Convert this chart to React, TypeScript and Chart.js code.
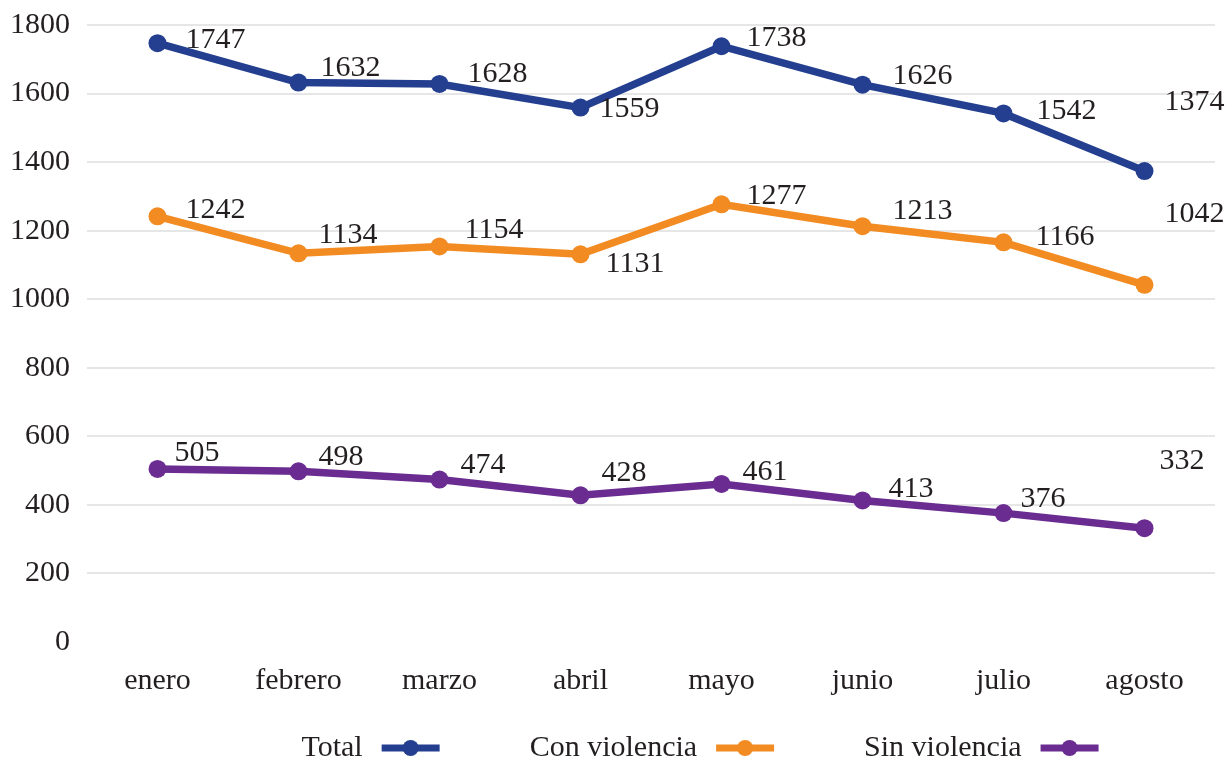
import React, { useEffect, useRef } from "react";
import { Chart, registerables } from "chart.js";

Chart.register(...registerables);

// ---- data ----
const months = ["enero", "febrero", "marzo", "abril", "mayo", "junio", "julio", "agosto"];
const seriesNames = ["Total", "Con violencia", "Sin violencia"];
const totalValues = [1747, 1632, 1628, 1559, 1738, 1626, 1542, 1374];
const conViolenciaValues = [1242, 1134, 1154, 1131, 1277, 1213, 1166, 1042];
const sinViolenciaValues = [505, 498, 474, 428, 461, 413, 376, 332];
const yMin = 0;
const yMax = 1800;
const yStep = 200;

// ---- styles ----
const COLORS = ["#243f8f", "#f28b22", "#6a2c91"];
const FONT = '"Liberation Serif", "DejaVu Serif", serif';
const TEXT = "#231f20";
const GRID = "#e6e6e6";
const FS = 30;

// label offsets relative to each point (dx, dy)
const labelOffsets: number[][][] = [
  [[28, -3], [22, -14], [28, -10], [19, 2], [25, -8], [30, -9], [33, -2], [20, -69]],
  [[28, -6], [20, -18], [25, -16], [25, 10], [25, -8], [30, -15], [32, -5], [20, -71]],
  [[17, -16], [20, -14], [21, -14], [21, -22], [21, -12], [26, -11], [17, -14], [15, -67]],
];

const dataLabelPlugin = {
  id: "customDataLabels",
  afterDatasetsDraw(chart: any) {
    const ctx = chart.ctx;
    ctx.save();
    ctx.font = `${FS}px ${FONT}`;
    ctx.fillStyle = TEXT;
    ctx.textAlign = "left";
    ctx.textBaseline = "middle";
    chart.data.datasets.forEach((ds: any, i: number) => {
      const meta = chart.getDatasetMeta(i);
      meta.data.forEach((el: any, j: number) => {
        const off = labelOffsets[i][j];
        ctx.fillText(String(ds.data[j]), el.x + off[0], el.y + off[1]);
      });
    });
    ctx.restore();
  },
};

const legendPlugin = {
  id: "customLegend",
  afterDraw(chart: any) {
    const ctx = chart.ctx;
    ctx.save();
    ctx.font = `${FS}px ${FONT}`;
    ctx.textAlign = "left";
    ctx.textBaseline = "middle";
    const gapText = 19;
    const markerW = 58;
    const gapItem = 90;
    const widths = chart.data.datasets.map((ds: any) => ctx.measureText(ds.label).width);
    let total = 0;
    widths.forEach((w: number, i: number) => {
      total += w + gapText + markerW + (i < widths.length - 1 ? gapItem : 0);
    });
    let x = 700 - total / 2;
    const y = 748;
    chart.data.datasets.forEach((ds: any, i: number) => {
      ctx.fillStyle = TEXT;
      ctx.fillText(ds.label, x, y);
      x += widths[i] + gapText;
      ctx.strokeStyle = ds.borderColor;
      ctx.lineWidth = 7;
      ctx.beginPath();
      ctx.moveTo(x, y);
      ctx.lineTo(x + markerW, y);
      ctx.stroke();
      ctx.fillStyle = ds.borderColor;
      ctx.beginPath();
      ctx.arc(x + markerW / 2, y, 8, 0, Math.PI * 2);
      ctx.fill();
      x += markerW + gapItem;
    });
    ctx.restore();
  },
};

export default function App() {
  const canvasRef = useRef<HTMLCanvasElement | null>(null);

  useEffect(() => {
    if (!canvasRef.current) return;
    const seriesValues = [totalValues, conViolenciaValues, sinViolenciaValues];
    const chart = new Chart(canvasRef.current, {
      type: "line",
      data: {
        labels: months,
        datasets: seriesValues.map((vals, i) => ({
          label: seriesNames[i],
          data: vals,
          borderColor: COLORS[i],
          backgroundColor: COLORS[i],
          borderWidth: 7.5,
          pointRadius: 9,
          pointBorderWidth: 0,
          pointBackgroundColor: COLORS[i],
          tension: 0,
          fill: false,
        })),
      },
      options: {
        animation: false,
        responsive: false,
        devicePixelRatio: 1,
        layout: { padding: { top: 25, right: 13, bottom: 60, left: 0 } },
        plugins: {
          legend: { display: false },
          tooltip: { enabled: false },
        },
        scales: {
          x: {
            offset: true,
            grid: { display: false, drawTicks: false },
            border: { display: false },
            ticks: { color: TEXT, font: { family: FONT, size: FS }, padding: 21, maxRotation: 0 },
            afterFit: (s: any) => { s.height = 60; },
          },
          y: {
            min: yMin,
            max: yMax,
            grid: {
              color: (c: any) => (c.tick && c.tick.value === 0 ? "rgba(0,0,0,0)" : GRID),
              lineWidth: 2,
              drawTicks: false,
            },
            border: { display: false },
            ticks: {
              stepSize: yStep,
              color: TEXT,
              font: { family: FONT, size: FS },
              padding: 17,
              callback: (v: any) => String(v),
            },
            afterFit: (s: any) => {
              s.width = 87;
              s.paddingTop = 0;
              s.paddingBottom = 0;
            },
          },
        },
      },
      plugins: [dataLabelPlugin, legendPlugin],
    });
    return () => chart.destroy();
  }, []);

  return (
    <div style={{ position: "absolute", left: 0, top: 0, width: 1228, height: 762, background: "#fff" }}>
      <canvas ref={canvasRef} width={1228} height={762} style={{ width: 1228, height: 762 }} />
    </div>
  );
}
